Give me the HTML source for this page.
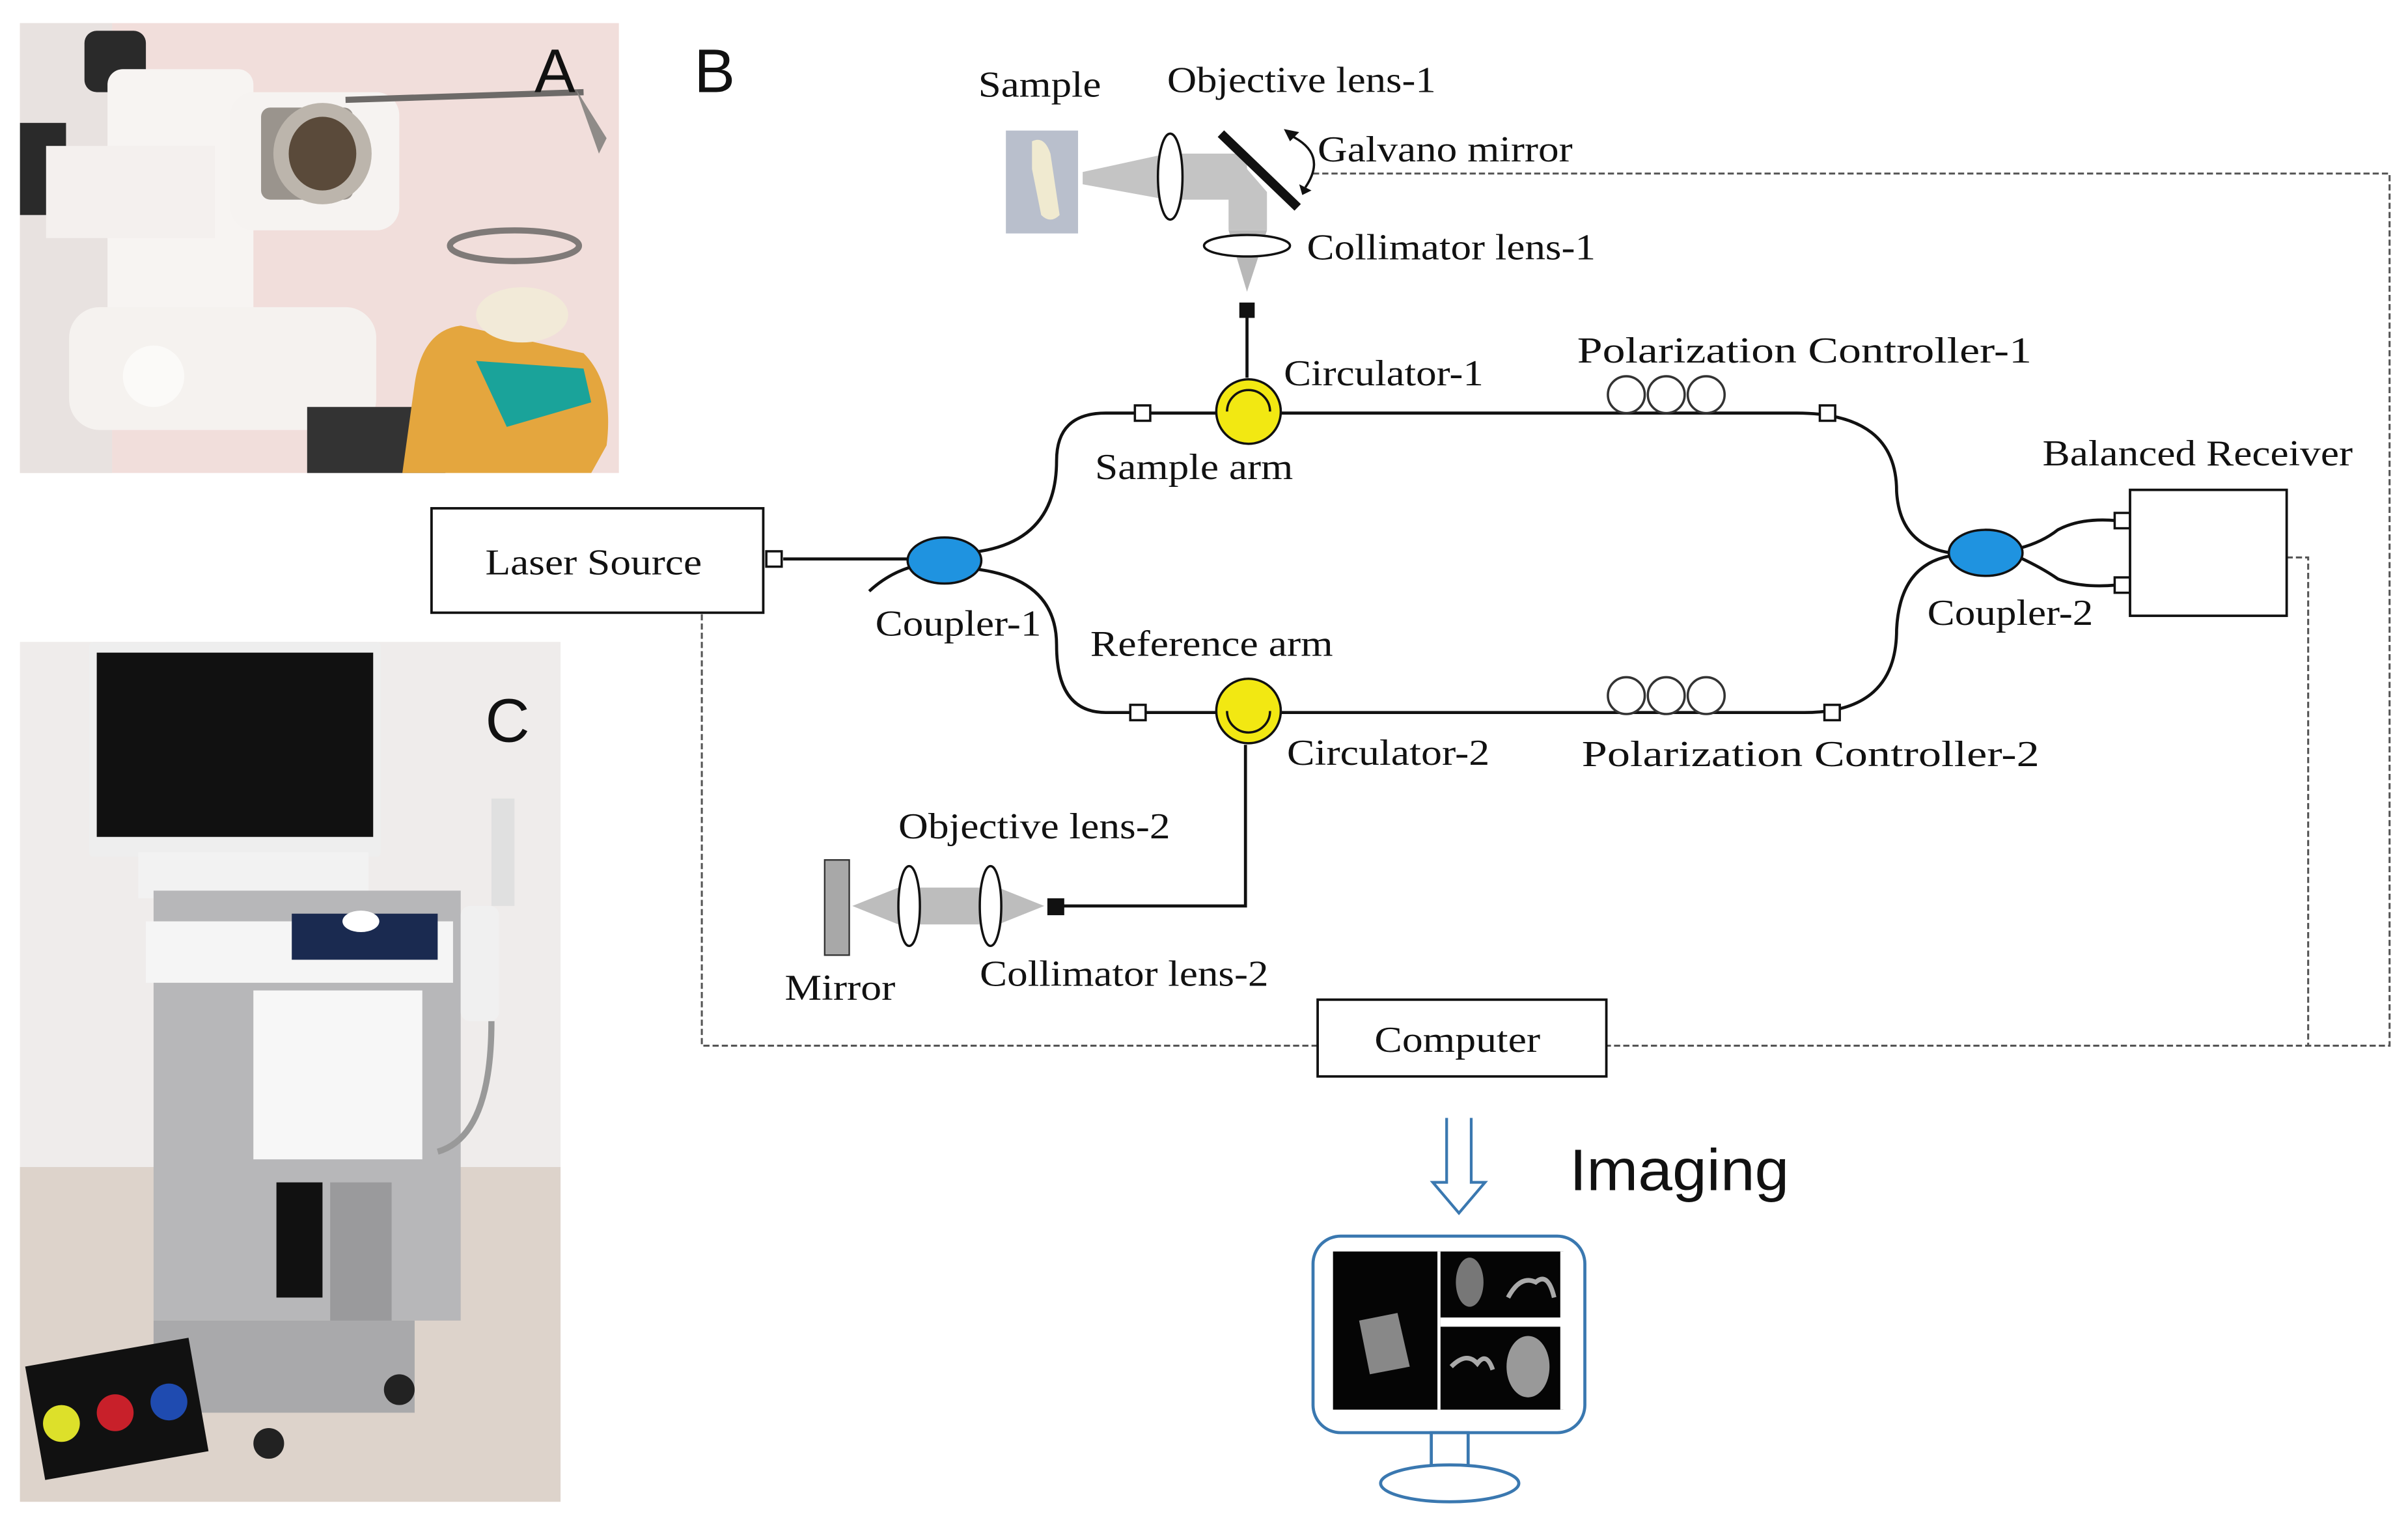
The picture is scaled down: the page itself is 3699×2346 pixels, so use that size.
<!DOCTYPE html>
<html><head><meta charset="utf-8"><style>html,body{margin:0;padding:0;background:#fff}svg{display:block}</style></head><body>
<svg width="3699" height="2346" viewBox="0 0 1568 994.4" xmlns="http://www.w3.org/2000/svg">
<rect width="1568" height="994.4" fill="#fff"/>
<!-- Photo A -->
<g>
<rect x="13" y="15" width="390" height="293" fill="#f1dedb"/>
<rect x="13" y="15" width="60" height="293" fill="#e8e2e0"/>
<rect x="55" y="20" width="40" height="40" rx="8" fill="#2a2a2a"/>
<rect x="13" y="80" width="30" height="60" fill="#2a2a2a"/>
<rect x="70" y="45" width="95" height="230" rx="10" fill="#f7f4f2"/>
<rect x="30" y="95" width="110" height="60" fill="#f4f0ee"/>
<rect x="45" y="200" width="200" height="80" rx="20" fill="#f5f2ef"/>
<circle cx="100" cy="245" r="20" fill="#fbfaf8"/>
<rect x="150" y="60" width="110" height="90" rx="15" fill="#f6f3f1"/>
<rect x="170" y="70" width="60" height="60" rx="6" fill="#9a948d"/>
<ellipse cx="210" cy="100" rx="32" ry="33" fill="#bcb5ac"/>
<ellipse cx="210" cy="100" rx="22" ry="24" fill="#5a4a3a"/>
<line x1="225" y1="65" x2="380" y2="60" stroke="#6d6a68" stroke-width="4"/>
<path d="M375 58 L395 90 L390 100 Z" fill="#8f8b88"/>
<ellipse cx="335" cy="160" rx="42" ry="10" fill="none" stroke="#7f7a78" stroke-width="4"/>
<rect x="200" y="265" width="90" height="43" fill="#333"/>
<path d="M270 250 Q275 215 300 212 L380 230 Q400 250 395 290 L385 308 L262 308 Z" fill="#e4a63e"/>
<ellipse cx="340" cy="205" rx="30" ry="18" fill="#f2ead8"/>
<path d="M310 235 L380 240 L385 262 L330 278 Z" fill="#1aa39a"/>
</g>
<!-- Photo C -->
<g>
<rect x="13" y="418" width="352" height="560" fill="#efeceb"/>
<rect x="13" y="760" width="352" height="218" fill="#ddd3cb"/>
<rect x="58" y="418" width="190" height="140" rx="3" fill="#eeeeee"/>
<rect x="63" y="425" width="180" height="120" fill="#111"/>
<rect x="90" y="555" width="150" height="30" fill="#f2f2f2"/>
<rect x="100" y="580" width="200" height="280" fill="#b7b7b9"/>
<rect x="95" y="600" width="200" height="40" fill="#f5f5f5"/>
<rect x="190" y="595" width="95" height="30" fill="#1a2a50"/>
<ellipse cx="235" cy="600" rx="12" ry="7" fill="#fff"/>
<rect x="165" y="645" width="110" height="110" fill="#f7f7f7"/>
<rect x="180" y="770" width="30" height="75" fill="#111"/>
<rect x="215" y="770" width="40" height="140" fill="#9a9a9c"/>
<rect x="100" y="860" width="170" height="60" fill="#a9a9ab"/>
<rect x="300" y="590" width="25" height="75" rx="6" fill="#f0f0f0"/>
<rect x="320" y="520" width="15" height="70" fill="#e0e0e0"/>
<path d="M320 665 Q320 740 285 750" stroke="#999" stroke-width="4" fill="none"/>
<rect x="22" y="880" width="108" height="75" fill="#111" transform="rotate(-10 76 917)"/>
<circle cx="40" cy="927" r="12" fill="#dde02a"/>
<circle cx="75" cy="920" r="12" fill="#c8202a"/>
<circle cx="110" cy="913" r="12" fill="#1f4bb0"/>
<circle cx="175" cy="940" r="10" fill="#222"/><circle cx="260" cy="905" r="10" fill="#222"/>
</g>
<g font-family="Liberation Sans, sans-serif" font-size="40" fill="#111">
<text x="348" y="60">A</text><text x="452" y="60">B</text><text x="316" y="483">C</text>
</g>
<!-- Dashed loops -->
<g stroke="#555" stroke-width="1.3" fill="none" stroke-dasharray="4 2">
<polyline points="855,113 1556,113 1556,681 1046,681"/>
<polyline points="858,681 457,681 457,399"/>
<polyline points="1489,363 1503,363 1503,681"/>
</g>
<!-- Fibers -->
<g stroke="#111" stroke-width="2" fill="none">
<line x1="510" y1="364" x2="600" y2="364"/>
<path d="M566 385 Q580 372 598 368"/>
<path d="M630 360 Q688 355 688 300 Q688 269 720 269 L1170 269 Q1235 269 1235 320 Q1237 355 1270 360"/>
<path d="M630 370 Q688 375 688 420 Q688 464 720 464 L1175 464 Q1235 464 1235 410 Q1237 368 1270 362"/>
<path d="M1315 357 Q1330 353 1340 345 Q1355 337 1378 339"/>
<path d="M1315 363 Q1330 370 1340 377 Q1355 383 1378 381"/>
<line x1="812" y1="246" x2="812" y2="205"/>
<polyline points="811,485 811,590 690,590"/>
</g>
<!-- PC loops -->
<g stroke="#333" stroke-width="1.5" fill="#fff">
<circle cx="1059" cy="257" r="12"/><circle cx="1085" cy="257" r="12"/><circle cx="1111" cy="257" r="12"/>
<circle cx="1059" cy="453" r="12"/><circle cx="1085" cy="453" r="12"/><circle cx="1111" cy="453" r="12"/>
</g>
<g stroke="#111" stroke-width="1.5" fill="#fff">
<rect x="499" y="359" width="10" height="10"/>
<rect x="739" y="264" width="10" height="10"/>
<rect x="1185" y="264" width="10" height="10"/>
<rect x="736" y="459" width="10" height="10"/>
<rect x="1188" y="459" width="10" height="10"/>
<rect x="1377" y="334" width="10" height="10"/>
<rect x="1377" y="376" width="10" height="10"/>
</g>
<rect x="807" y="197" width="10" height="10" fill="#111"/>
<rect x="682" y="585" width="11" height="11" fill="#111"/>
<circle cx="1395" cy="339" r="2.5" fill="#111"/><circle cx="1395" cy="381" r="2.5" fill="#111"/>
<ellipse cx="615" cy="365" rx="24" ry="15" fill="#1f93e0" stroke="#111" stroke-width="1.5"/>
<ellipse cx="1293" cy="360" rx="24" ry="15" fill="#1f93e0" stroke="#111" stroke-width="1.5"/>
<g stroke="#111" stroke-width="1.5">
<circle cx="813" cy="268" r="21" fill="#f2e812"/>
<path d="M799 268 A14 14 0 0 1 827 268" fill="none"/>
<circle cx="813" cy="463" r="21" fill="#f2e812"/>
<path d="M799 463 A14 14 0 0 0 827 463" fill="none"/>
</g>
<g stroke="#111" stroke-width="1.6" fill="#fff">
<rect x="281" y="331" width="216" height="68"/>
<rect x="1387" y="319" width="102" height="82"/>
<rect x="858" y="651" width="188" height="50"/>
</g>
<polygon points="812,190 800,150 825,150" fill="#b8b8b8"/>
<polygon points="825,150 800,150 800,105 812,110 825,125" fill="#c4c4c4"/>
<polygon points="812,100 812,130 760,130 705,120 705,112 760,100" fill="#c4c4c4"/>
<ellipse cx="812" cy="160" rx="28" ry="7" fill="#fff" stroke="#111" stroke-width="1.5"/>
<ellipse cx="762" cy="115" rx="8" ry="28" fill="#fff" stroke="#111" stroke-width="1.5"/>
<line x1="795" y1="87" x2="845" y2="135" stroke="#111" stroke-width="6"/>
<path d="M840 88 Q865 100 850 122" fill="none" stroke="#111" stroke-width="1.5"/>
<polygon points="836,84 846,86 840,92" fill="#111"/>
<polygon points="846,120 854,124 848,127" fill="#111"/>
<rect x="655" y="85" width="47" height="67" fill="#b9bfcc"/>
<path d="M672 92 Q680 88 684 100 L690 140 Q684 146 678 140 L672 110 Z" fill="#f0ead0"/>
<polygon points="555,590 585,578 650,578 680,590 650,602 585,602" fill="#bdbdbd"/>
<rect x="537" y="560" width="16" height="62" fill="#a8a8a8" stroke="#333" stroke-width="1"/>
<ellipse cx="592" cy="590" rx="7" ry="26" fill="#fff" stroke="#111" stroke-width="1.5"/>
<ellipse cx="645" cy="590" rx="7" ry="26" fill="#fff" stroke="#111" stroke-width="1.5"/>
<g font-family="Liberation Serif, serif" font-size="24" fill="#111" lengthAdjust="spacingAndGlyphs">
<text x="316" y="374" textLength="141" lengthAdjust="spacingAndGlyphs">Laser Source</text>
<text x="570" y="414" textLength="108" lengthAdjust="spacingAndGlyphs">Coupler-1</text>
<text x="637" y="63" textLength="80" lengthAdjust="spacingAndGlyphs">Sample</text>
<text x="760" y="60" textLength="175" lengthAdjust="spacingAndGlyphs">Objective lens-1</text>
<text x="858" y="105" textLength="166" lengthAdjust="spacingAndGlyphs">Galvano mirror</text>
<text x="851" y="169" textLength="188" lengthAdjust="spacingAndGlyphs">Collimator lens-1</text>
<text x="836" y="251" textLength="130" lengthAdjust="spacingAndGlyphs">Circulator-1</text>
<text x="1027" y="236" textLength="296" lengthAdjust="spacingAndGlyphs">Polarization Controller-1</text>
<text x="713" y="312" textLength="129" lengthAdjust="spacingAndGlyphs">Sample arm</text>
<text x="1330" y="303" textLength="202" lengthAdjust="spacingAndGlyphs">Balanced Receiver</text>
<text x="1255" y="407" textLength="108" lengthAdjust="spacingAndGlyphs">Coupler-2</text>
<text x="710" y="427" textLength="158" lengthAdjust="spacingAndGlyphs">Reference arm</text>
<text x="838" y="498" textLength="132" lengthAdjust="spacingAndGlyphs">Circulator-2</text>
<text x="1030" y="499" textLength="298" lengthAdjust="spacingAndGlyphs">Polarization Controller-2</text>
<text x="585" y="546" textLength="177" lengthAdjust="spacingAndGlyphs">Objective lens-2</text>
<text x="638" y="642" textLength="188" lengthAdjust="spacingAndGlyphs">Collimator lens-2</text>
<text x="511" y="651" textLength="72" lengthAdjust="spacingAndGlyphs">Mirror</text>
<text x="895" y="685" textLength="108" lengthAdjust="spacingAndGlyphs">Computer</text>
</g>
<path d="M942 728 L942 770 L933 770 L950 790 L967 770 L958 770 L958 728" fill="#fff" stroke="#3a78b0" stroke-width="1.8"/>
<text x="1022" y="775" font-family="Liberation Sans, sans-serif" font-size="38" fill="#111" textLength="143" lengthAdjust="spacingAndGlyphs">Imaging</text>
<rect x="855" y="805" width="177" height="128" rx="18" fill="#fff" stroke="#3a78b0" stroke-width="2"/>
<rect x="868" y="815" width="150" height="103" fill="#050505"/>
<rect x="936" y="815" width="2" height="103" fill="#fff"/>
<rect x="938" y="858" width="80" height="6" fill="#fff"/>
<rect x="1016" y="815" width="4" height="103" fill="#fff"/>
<path d="M885 860 L910 855 L918 890 L892 895 Z" fill="#888"/>
<ellipse cx="957" cy="835" rx="9" ry="16" fill="#777"/>
<path d="M982 845 Q990 830 1000 835 Q1008 828 1012 845" fill="none" stroke="#aaa" stroke-width="3"/>
<path d="M945 890 Q955 880 962 888 Q968 880 972 892" fill="none" stroke="#aaa" stroke-width="3"/>
<ellipse cx="995" cy="890" rx="14" ry="20" fill="#999"/>
<rect x="932" y="933" width="24" height="22" fill="#fff" stroke="#3a78b0" stroke-width="2"/>
<ellipse cx="944" cy="966" rx="45" ry="12" fill="#fff" stroke="#3a78b0" stroke-width="2"/>
</svg>
</body></html>
